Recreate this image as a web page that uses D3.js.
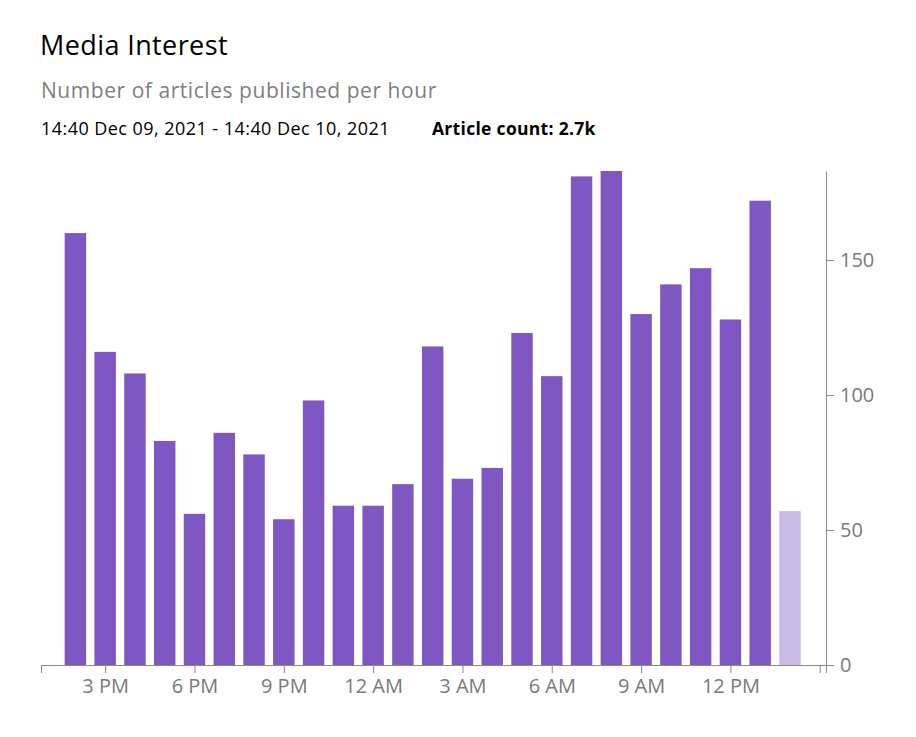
<!DOCTYPE html>
<html>
<head>
<meta charset="utf-8">
<script src="https://cdn.jsdelivr.net/npm/d3@7"></script>
<style>
  html, body { margin: 0; padding: 0; background: #fff; }
  svg { display: block; font-family: "Open Sans", sans-serif; }
</style>
</head>
<body>
<svg id="chart" width="916" height="737"></svg>
<script>
// ---- data ----
const hours = [
  "2021-12-09T14:00","2021-12-09T15:00","2021-12-09T16:00","2021-12-09T17:00","2021-12-09T18:00",
  "2021-12-09T19:00","2021-12-09T20:00","2021-12-09T21:00","2021-12-09T22:00","2021-12-09T23:00",
  "2021-12-10T00:00","2021-12-10T01:00","2021-12-10T02:00","2021-12-10T03:00","2021-12-10T04:00",
  "2021-12-10T05:00","2021-12-10T06:00","2021-12-10T07:00","2021-12-10T08:00","2021-12-10T09:00",
  "2021-12-10T10:00","2021-12-10T11:00","2021-12-10T12:00","2021-12-10T13:00","2021-12-10T14:00"
];
const counts = [160,116,108,83,56,86,78,54,98,59,59,67,118,69,73,123,107,181,183,130,141,147,128,172,57];
const partial = [false,false,false,false,false,false,false,false,false,false,false,false,false,false,false,false,false,false,false,false,false,false,false,false,true];
const yTicks = [0,50,100,150];
const xTickTimes = ["2021-12-09T15:00","2021-12-09T18:00","2021-12-09T21:00","2021-12-10T00:00",
  "2021-12-10T03:00","2021-12-10T06:00","2021-12-10T09:00","2021-12-10T12:00","2021-12-10T15:00"];
const xTickLabels = ["3 PM","6 PM","9 PM","12 AM","3 AM","6 AM","9 AM","12 PM",""];
const title = "Media Interest";
const subtitle = "Number of articles published per hour";
const rangeText = "14:40 Dec 09, 2021 - 14:40 Dec 10, 2021";
const countText = "Article count: 2.7k";

// ---- layout ----
const parse = d3.timeParse("%Y-%m-%dT%H:%M");
const data = hours.map((h, i) => ({ t: parse(h), v: counts[i], partial: partial[i] }));
const H = 3600 * 1000;
const plotLeft = 41, plotRight = 826, plotTop = 171, plotBottom = 665;
const barHours = 0.72;

const x = d3.scaleTime()
  .domain([new Date(data[0].t.getTime() - 1.155 * H), new Date(data[data.length - 1].t.getTime() + 1.21 * H)])
  .range([plotLeft, plotRight]);
const y = d3.scaleLinear().domain([0, d3.max(counts)]).range([plotBottom, plotTop]);

const svg = d3.select("#chart");

svg.append("text").attr("x", 40).attr("y", 55)
  .attr("font-size", 27).attr("letter-spacing", 0.4).attr("fill", "#000").text(title);
svg.append("text").attr("x", 41).attr("y", 98)
  .attr("font-size", 21).attr("letter-spacing", 0.55).attr("fill", "#808080").text(subtitle);
svg.append("text").attr("x", 41).attr("y", 135)
  .attr("font-size", 18).attr("letter-spacing", 0.45).attr("fill", "#000").text(rangeText);
svg.append("text").attr("x", 432).attr("y", 135)
  .attr("font-size", 17.5).attr("letter-spacing", 0.3).attr("font-weight", "bold").attr("fill", "#000").text(countText);

const bw = x(new Date(barHours * H)) - x(new Date(0));
svg.append("g").selectAll("rect").data(data).join("rect")
  .attr("x", d => x(d.t) - bw / 2)
  .attr("width", bw)
  .attr("y", d => y(d.v))
  .attr("height", d => y(0) - y(d.v))
  .attr("fill", d => d.partial ? "#cbbce7" : "#7e57c2");

// x axis
const xAxis = d3.axisBottom(x)
  .tickValues(xTickTimes.map(parse))
  .tickFormat((d, i) => xTickLabels[i])
  .tickSizeOuter(0).tickSize(8).tickPadding(6);
const gx = svg.append("g").attr("transform", `translate(0,${plotBottom})`).call(xAxis);
gx.select(".domain").attr("stroke", "#8a8a8a");
gx.selectAll(".tick line").attr("stroke", "#8a8a8a");
gx.selectAll(".tick text").attr("fill", "#7a7a7a").attr("font-size", 20)
  .attr("font-family", "Open Sans, sans-serif");

// y axis (right)
const yAxis = d3.axisRight(y).tickValues(yTicks).tickSize(8).tickPadding(6).tickSizeOuter(0);
const gy = svg.append("g").attr("transform", `translate(${plotRight},0)`).call(yAxis);
gy.select(".domain").attr("stroke", "#8a8a8a");
gy.selectAll(".tick line").attr("stroke", "#8a8a8a");
gy.selectAll(".tick text").attr("fill", "#7a7a7a").attr("font-size", 20)
  .attr("font-family", "Open Sans, sans-serif");
</script>
</body>
</html>
